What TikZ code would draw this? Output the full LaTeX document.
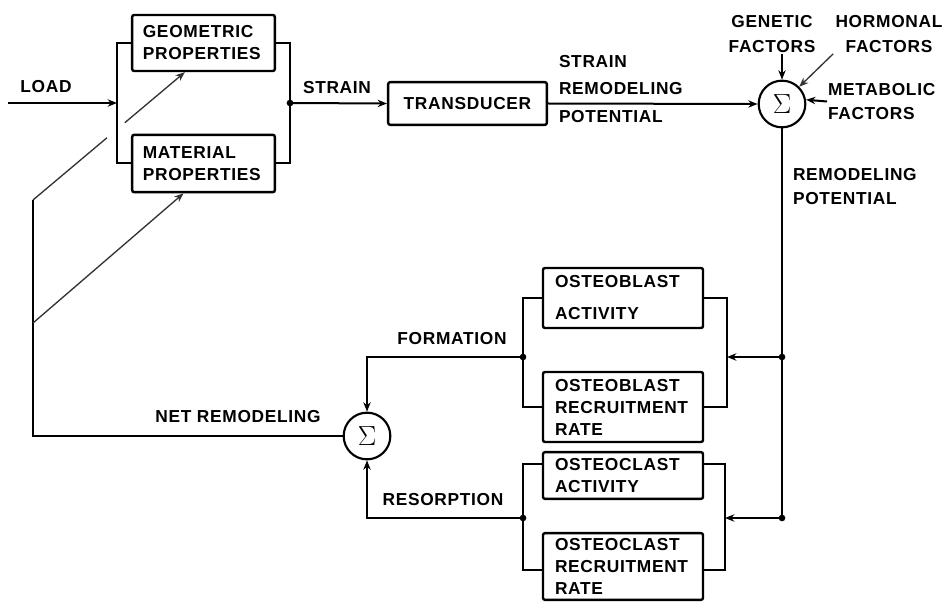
\documentclass[tikz,border=0pt]{standalone}
\usepackage{fontspec}
\newfontfamily\lettering[LetterSpace=4]{Liberation Sans}
\usetikzlibrary{arrows.meta, positioning, calc}
\tikzset{
  every picture/.style={font=\lettering\bfseries\fontsize{13}{16.5}\selectfont, line width=1.5pt},
  box/.style={draw, line width=1.8pt, rounded corners=1.5pt, inner ysep=0pt, align=left},
  propbox/.style={box, text width=91pt, inner xsep=8pt},
  cellbox/.style={box, text width=102pt, inner xsep=9pt},
  sumnode/.style={circle, draw, line width=1.6pt, minimum size=35pt, inner sep=0pt, font=\huge},
  arrow/.style={-{Stealth[length=7pt, width=5.5pt]}},
  feedback/.style={line width=1pt, draw=black!80},
  feedarrow/.style={feedback, -{Stealth[length=7pt, width=5.5pt]}},
  lbl/.style={inner sep=0pt},
}

\begin{document}
\begin{tikzpicture}[x=0.75pt, y=-0.75pt]
  \useasboundingbox (0,0) rectangle (948,602);
  % bone: geometry and material
  \node[propbox, minimum height=42pt] (geo) at (203.5,43) {GEOMETRIC\\PROPERTIES};
  \node[propbox, minimum height=43pt] (mat) at (203.5,163.5) {MATERIAL\\PROPERTIES};
  \coordinate (load) at (8,103);
  \coordinate (inL) at (117,103);
  \coordinate (outR) at (290,103);
  \draw[arrow] (load) -- (inL);
  \node[lbl] (loadtxt) at (46,87) {LOAD};
  \draw (geo.west) -| (inL) |- (mat.west);
  \draw (geo.east) -| (outR) |- (mat.east);
  \fill (outR) circle (2.5pt);
  % strain sensing
  \node[box, align=center, minimum width=119pt, minimum height=32pt] (trans) at (467.5,103.5) {TRANSDUCER};
  \draw[arrow] (outR) -- (trans.west);
  \node[lbl] (straintxt) at (337,88) {STRAIN};
  \node[sumnode] (sum1) at (782,104) {$\Sigma$};
  \draw[arrow] (trans.east) -- (sum1.west);
  \node[lbl, align=left, anchor=west] (srp) at (558,89) {STRAIN\\[4pt]REMODELING\\[4pt]POTENTIAL};
  % other factors
  \node[lbl, align=center] (gen) at (772,34) {GENETIC\\[2.5pt]FACTORS};
  \node[lbl, align=center] (horm) at (889,34) {HORMONAL\\[2.5pt]FACTORS};
  \node[lbl, align=left, anchor=west] (meta) at (827,101.5) {METABOLIC\\[1pt]FACTORS};
  \draw[arrow] (gen.south -| sum1.north) -- (sum1.north);
  \draw[feedarrow] ([xshift=-1pt]horm.south west) -- (sum1.45);
  \draw[arrow] (meta.west) -- (sum1.10);
  \node[lbl, align=left, anchor=west] (rptxt) at (792,186.5) {REMODELING\\[1pt]POTENTIAL};
  \coordinate (rp1) at (782,357);
  \coordinate (rp2) at (782,518);
  \draw (sum1.south) -- (rp2);
  \fill (rp1) circle (2.5pt);
  \fill (rp2) circle (2.5pt);
  % cells
  \node[cellbox, minimum height=45pt] (obA) at (623,298) {OSTEOBLAST\\[7.5pt]ACTIVITY};
  \node[cellbox, minimum height=52.5pt] (obR) at (623,407) {OSTEOBLAST\\RECRUITMENT\\RATE};
  \node[cellbox, minimum height=35pt] (ocA) at (623,475.5) {OSTEOCLAST\\ACTIVITY};
  \node[cellbox, minimum height=50pt] (ocR) at (623,566.5) {OSTEOCLAST\\RECRUITMENT\\RATE};
  \coordinate (fL) at (523,357);
  \coordinate (fR) at (727,357);
  \coordinate (rL) at (523,518);
  \coordinate (rR) at (725,518);
  \draw (obA.west) -| (fL) |- (obR.west);
  \draw (obA.east) -| (fR) |- (obR.east);
  \draw ([yshift=9pt]ocA.west) -| (rL) |- ([yshift=-2.6pt]ocR.west);
  \draw ([yshift=9pt]ocA.east) -| (rR) |- ([yshift=-2.6pt]ocR.east);
  \draw[arrow] (rp1) -- (fR);
  \draw[arrow] (rp2) -- (rR);
  \fill (fL) circle (2.5pt);
  \fill (rL) circle (2.5pt);
  % net remodeling
  \node[sumnode] (sum2) at (367,436) {$\Sigma$};
  \draw[arrow] (fL) -| (sum2.north);
  \draw[arrow] (rL) -| (sum2.south);
  \node[lbl] (formtxt) at (452,339) {FORMATION};
  \node[lbl] (restxt) at (443,500) {RESORPTION};
  \node[lbl] (nettxt) at (238,417) {NET REMODELING};
  % feedback to the bone
  \coordinate (fb1) at (33,323);
  \coordinate (fb2) at (33,200);
  \coordinate (gtip) at ([xshift=-14pt]geo.south);
  \coordinate (mtip) at ([xshift=-15pt]mat.south);
  \draw (sum2.west) -| (fb2);
  \draw[feedback] (fb2) -- ($(fb2)!0.487!(gtip)$);
  \draw[feedarrow] ($(fb2)!0.605!(gtip)$) -- (gtip);
  \draw[feedarrow] (fb1) -- (mtip);
\end{tikzpicture}
\end{document}
